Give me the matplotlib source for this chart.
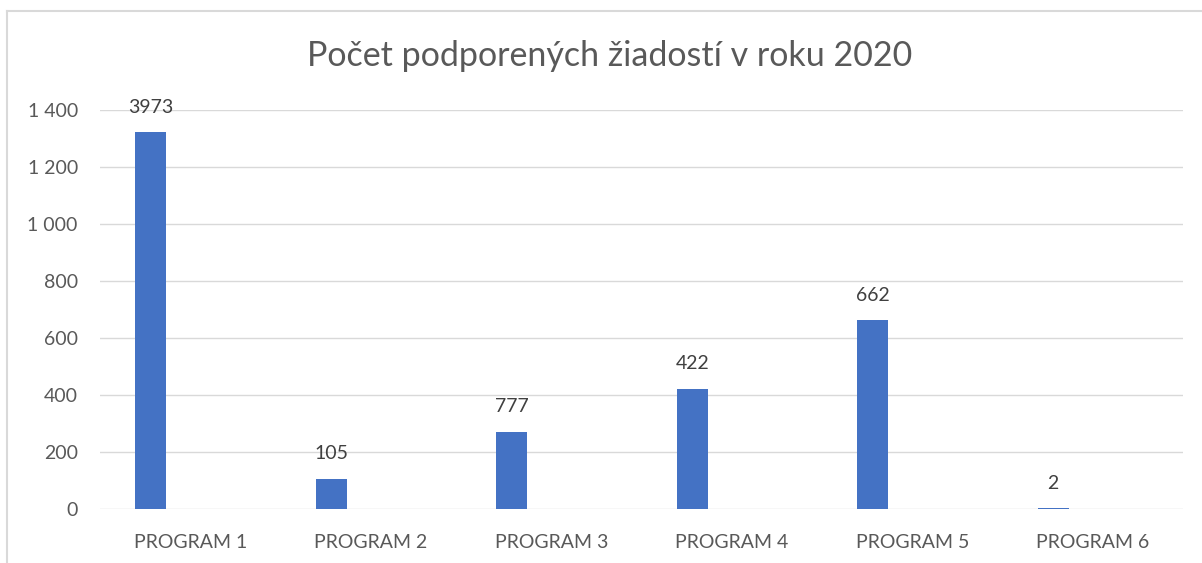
import numpy as np
import matplotlib.pyplot as plt
from matplotlib.lines import Line2D

programs = ["PROGRAM 1", "PROGRAM 2", "PROGRAM 3", "PROGRAM 4", "PROGRAM 5", "PROGRAM 6"]
heights = [1322, 105, 270, 422, 662, 2]
labels = ["3973", "105", "777", "422", "662", "2"]
yticks = [0, 200, 400, 600, 800, 1000, 1200, 1400]
ytick_labels = ["0", "200", "400", "600", "800", "1 000", "1 200", "1 400"]

plt.rcParams['font.family'] = ['Lato', 'DejaVu Sans']
GRAY = '#595959'

fig = plt.figure(figsize=(12.02, 5.63), dpi=100)
W, H = 1202, 563
ax = fig.add_axes([100 / W, 1 - 509 / H, 1083 / W, 399 / H])

x = np.arange(len(programs))
bar_w = 31 / 180.5
offset = -39.5 / 180.5
ax.bar(x + offset, heights, width=bar_w, color='#4472C4', zorder=3)

for xi, h, lab in zip(x, heights, labels):
    ax.annotate(lab, (xi + offset, h), xytext=(0, 12), textcoords='offset points',
                ha='center', va='bottom', fontsize=14, color='#404040')

ax.set_xlim(-0.5, len(programs) - 0.5)
ax.set_ylim(0, 1400)
ax.set_yticks(yticks)
ax.set_yticklabels(ytick_labels)
ax.set_xticks(x)
ax.set_xticklabels(programs)
ax.tick_params(axis='both', length=0, labelsize=14, labelcolor=GRAY)
ax.tick_params(axis='y', pad=16)
ax.tick_params(axis='x', pad=18)
ax.grid(axis='y', color='#d9d9d9', linewidth=1, zorder=0)
for s in ax.spines.values():
    s.set_visible(False)

fig.text(610 / W, 1 - 56 / H, "Počet podporených žiadostí v roku 2020",
         ha='center', va='center', fontsize=24.5, color=GRAY)

# chart frame (partly cut off at right and bottom)
fig.add_artist(Line2D([7 / W, 7 / W], [0, 1 - 11 / H], color='#d9d9d9', linewidth=1.5,
                      transform=fig.transFigure))
fig.add_artist(Line2D([7 / W, 1], [1 - 11 / H, 1 - 11 / H], color='#d9d9d9', linewidth=1.5,
                      transform=fig.transFigure))

fig.savefig("out.png", dpi=100)
